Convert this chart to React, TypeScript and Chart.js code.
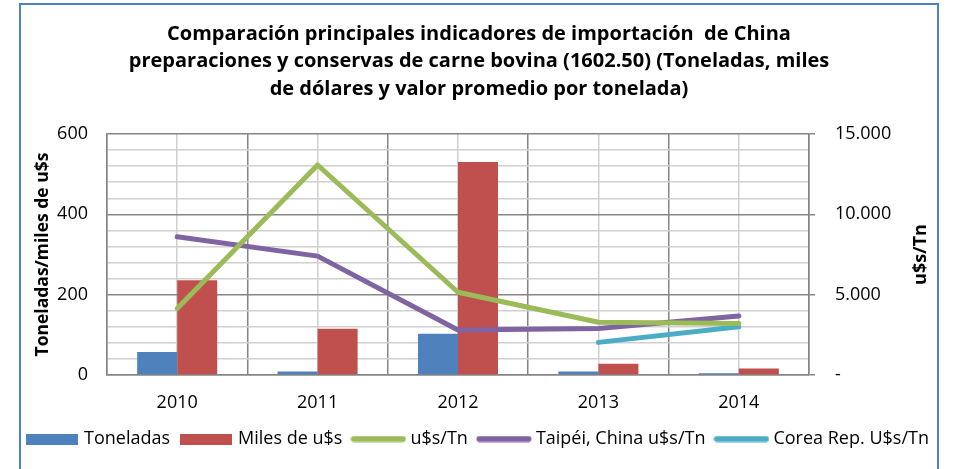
import React, { useEffect, useRef } from 'react';
import { Chart, registerables } from 'chart.js';

Chart.register(...registerables);

const categories = ['2010', '2011', '2012', '2013', '2014'];
const toneladas = [57, 8.8, 103, 8.5, 4.5];
const milesUSD = [236, 115, 530, 28, 16];
const usdPorTn = [4140, 13070, 5150, 3280, 3210];
const taipeiUsdTn = [8600, 7400, 2800, 2900, 3670];
const coreaUsdTn = [null, null, null, 2030, 3000];

const titleLines = [
  'Comparación principales indicadores de importación  de China',
  'preparaciones y conservas de carne bovina (1602.50) (Toneladas, miles',
  'de dólares y valor promedio por tonelada)',
];
const leftAxisTitle = 'Toneladas/miles de u$s';
const rightAxisTitle = 'u$s/Tn';

const FONT = '"Open Sans", Lato, sans-serif';
const BLUE = '#4F81BD';
const RED = '#C0504D';
const GREEN = '#9BBB59';
const PURPLE = '#8064A2';
const CYAN = '#4BACC6';
const MAJOR = '#868686';
const MINOR = '#D0D0D0';

function boxImage(color: string) {
  const c = document.createElement('canvas');
  c.width = 52;
  c.height = 11;
  const g = c.getContext('2d')!;
  g.fillStyle = color;
  g.fillRect(0, 0, 52, 11);
  return c;
}

function lineImage(color: string) {
  const c = document.createElement('canvas');
  c.width = 56;
  c.height = 7;
  const g = c.getContext('2d')!;
  g.strokeStyle = color;
  g.lineWidth = 6;
  g.lineCap = 'round';
  g.beginPath();
  g.moveTo(3.5, 3.5);
  g.lineTo(52.5, 3.5);
  g.stroke();
  return c;
}

function fmtThousands(v: number) {
  if (v === 0) return '-';
  const s = Math.round(v).toString();
  return s.replace(/\B(?=(\d{3})+(?!\d))/g, '.');
}

const rightTitlePlugin = {
  id: 'rightTitle',
  afterDraw(chart: any) {
    const { ctx, chartArea } = chart;
    ctx.save();
    ctx.translate(921, (chartArea.top + chartArea.bottom) / 2);
    ctx.rotate(-Math.PI / 2);
    ctx.font = `bold 18px ${FONT}`;
    ctx.fillStyle = '#000';
    ctx.textAlign = 'center';
    ctx.textBaseline = 'middle';
    ctx.fillText(rightAxisTitle, 0, 0);
    ctx.restore();
  },
};

export default function App() {
  const ref = useRef<HTMLCanvasElement>(null);

  useEffect(() => {
    if (!ref.current) return;
    const images = [boxImage(BLUE), boxImage(RED), lineImage(GREEN), lineImage(PURPLE), lineImage(CYAN)];
    const chart = new Chart(ref.current, {
      type: 'bar',
      data: {
        labels: categories,
        datasets: [
          { type: 'bar', label: 'Toneladas', data: toneladas, backgroundColor: BLUE, yAxisID: 'y', order: 2, categoryPercentage: 0.57, barPercentage: 1 },
          { type: 'bar', label: 'Miles de u$s', data: milesUSD, backgroundColor: RED, yAxisID: 'y', order: 2, categoryPercentage: 0.57, barPercentage: 1 },
          { type: 'line', label: 'u$s/Tn', data: usdPorTn, borderColor: GREEN, backgroundColor: GREEN, borderWidth: 5, pointRadius: 0, yAxisID: 'y2', order: 1, borderCapStyle: 'round', borderJoinStyle: 'round' },
          { type: 'line', label: 'Taipéi, China u$s/Tn', data: taipeiUsdTn, borderColor: PURPLE, backgroundColor: PURPLE, borderWidth: 5, pointRadius: 0, yAxisID: 'y2', order: 1, borderCapStyle: 'round', borderJoinStyle: 'round' },
          { type: 'line', label: 'Corea Rep. U$s/Tn', data: coreaUsdTn, borderColor: CYAN, backgroundColor: CYAN, borderWidth: 5, pointRadius: 0, yAxisID: 'y2', order: 1, borderCapStyle: 'round', borderJoinStyle: 'round' },
        ] as any,
      },
      options: {
        responsive: false,
        animation: false,
        layout: { padding: { left: 0, right: 0, top: 0, bottom: 11 } },
        plugins: {
          tooltip: { enabled: false },
          title: {
            display: true,
            text: titleLines,
            color: '#000',
            font: { family: FONT, size: 20, weight: 'bold', lineHeight: 1.375 },
            padding: { top: 20.5, bottom: 31 },
          },
          legend: {
            position: 'bottom',
            labels: {
              usePointStyle: true,
              pointStyleWidth: 46,
              boxHeight: 18,
              padding: 13,
              color: '#000',
              font: { family: FONT, size: 18 },
              generateLabels: (ch: any) =>
                ch.data.datasets.map((d: any, i: number) => ({
                  text: d.label,
                  pointStyle: images[i],
                  fillStyle: d.backgroundColor,
                  strokeStyle: d.backgroundColor,
                  lineWidth: 0,
                  hidden: false,
                  datasetIndex: i,
                  fontColor: '#000',
                })),
            },
          },
        },
        scales: {
          x: {
            type: 'category',
            position: 'bottom',
            offset: true,
            grid: { offset: true, color: MAJOR, lineWidth: 1.5, drawTicks: false },
            border: { color: MAJOR, width: 1.5 },
            ticks: { color: '#000', font: { family: FONT, size: 18 }, padding: 17 },
            afterFit: (s: any) => { s.height = 42; },
          },
          x2: {
            type: 'category',
            position: 'top',
            offset: true,
            grid: { offset: false, color: MINOR, lineWidth: 1.5, drawTicks: false },
            border: { display: false },
            ticks: { display: false },
            afterFit: (s: any) => { s.height = 0; },
          },
          y: {
            type: 'linear',
            position: 'left',
            min: 0,
            max: 600,
            ticks: {
              stepSize: 40,
              maxTicksLimit: 20,
              autoSkip: false,
              color: '#000',
              font: { family: FONT, size: 18 },
              padding: 19,
              callback: (v: any) => (Number(v) % 200 === 0 ? String(v) : ''),
            },
            grid: {
              drawTicks: false,
              color: (c: any) => (c.tick && c.tick.value % 200 === 0 ? MAJOR : MINOR),
              lineWidth: 1.5,
            },
            border: { color: MAJOR, width: 1.5 },
            title: {
              display: true,
              text: leftAxisTitle,
              color: '#000',
              font: { family: FONT, size: 17.5, weight: 'bold', lineHeight: 1.2 },
              padding: { top: 33, bottom: 0 },
            },
            afterFit: (s: any) => { s.width = 107; },
          },
          y2: {
            type: 'linear',
            position: 'right',
            min: 0,
            max: 15000,
            ticks: {
              stepSize: 5000,
              color: '#000',
              font: { family: FONT, size: 18 },
              padding: 20,
              callback: (v: any) => fmtThousands(Number(v)),
            },
            grid: { drawOnChartArea: false, drawTicks: true, tickLength: 6, tickColor: MAJOR, lineWidth: 1.5 },
            border: { color: MAJOR, width: 1.5 },
            afterFit: (s: any) => { s.width = 149; },
          },
        },
      } as any,
      plugins: [rightTitlePlugin],
    });
    return () => chart.destroy();
  }, []);

  return (
    <div
      style={{
        position: 'absolute',
        left: 19,
        top: 3,
        width: 920,
        height: 520,
        border: `2px solid ${BLUE}`,
        boxSizing: 'border-box',
        overflow: 'hidden',
        background: '#fff',
      }}
    >
      <canvas
        ref={ref}
        width={958}
        height={469}
        style={{ position: 'absolute', left: -21, top: -5, width: 958, height: 469 }}
      />
    </div>
  );
}
